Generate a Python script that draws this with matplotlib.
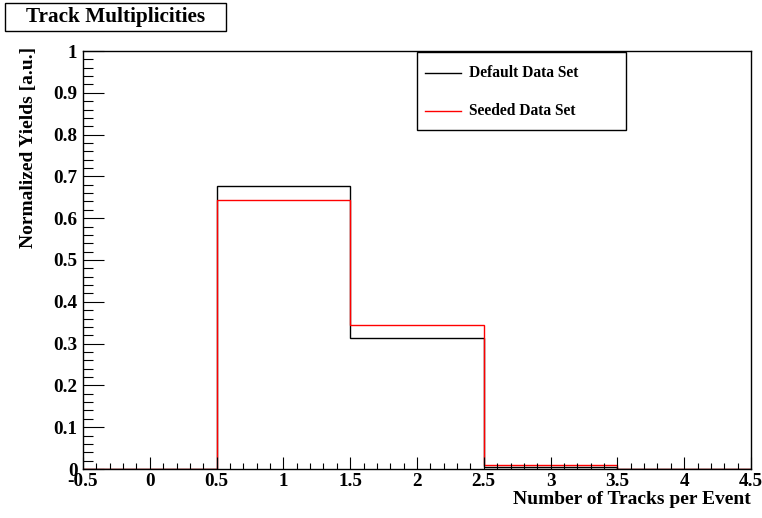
import matplotlib
matplotlib.use("Agg")
import matplotlib.pyplot as plt
from matplotlib.patches import Rectangle
from matplotlib.lines import Line2D
from matplotlib.ticker import MultipleLocator
import numpy as np

# histogram data (bin edges and normalized yields)
bin_edges = [-0.5, 0.5, 1.5, 2.5, 3.5, 4.5]
default_yields = [0.0, 0.677, 0.313, 0.005, 0.0]
seeded_yields = [0.0, 0.644, 0.344, 0.0095, 0.0]
series_labels = ["Default Data Set", "Seeded Data Set"]
x_ticks = [-0.5, 0, 0.5, 1, 1.5, 2, 2.5, 3, 3.5, 4, 4.5]
x_ticklabels = ["-0.5", "0", "0.5", "1", "1.5", "2", "2.5", "3", "3.5", "4", "4.5"]
y_ticks = [0, 0.1, 0.2, 0.3, 0.4, 0.5, 0.6, 0.7, 0.8, 0.9, 1]
y_ticklabels = ["0", "0.1", "0.2", "0.3", "0.4", "0.5", "0.6", "0.7", "0.8", "0.9", "1"]

W, H = 762, 518
def fx(px):
    return px / W
def fy(py):
    return 1 - py / H

plt.rcParams['font.family'] = ['Liberation Serif', 'DejaVu Serif']
plt.rcParams['font.weight'] = 'bold'

fig = plt.figure(figsize=(W / 100, H / 100), dpi=100)
ax = fig.add_axes([fx(83), fy(469), fx(751) - fx(83), fy(51) - fy(469)])

ax.stairs(default_yields, bin_edges, color="black", lw=1.0)
ax.stairs(seeded_yields, bin_edges, color="red", lw=1.0)

ax.set_xlim(-0.5, 4.5)
ax.set_ylim(0, 1)
ax.set_xticks(x_ticks)
ax.set_xticklabels(x_ticklabels)
ax.set_yticks(y_ticks)
ax.set_yticklabels(y_ticklabels)
ax.xaxis.set_minor_locator(MultipleLocator(0.1))
ax.yaxis.set_minor_locator(MultipleLocator(0.02))
ax.tick_params(axis="x", which="major", direction="in", length=9, width=0.8,
               labelsize=13.8, pad=3, top=False)
ax.tick_params(axis="x", which="minor", direction="in", length=4.5, width=0.8, top=False)
ax.tick_params(axis="y", which="major", direction="in", length=15, width=0.8,
               labelsize=13.8, pad=4, right=False)
ax.tick_params(axis="y", which="minor", direction="in", length=7.5, width=0.8, right=False)
for lab in ax.get_xticklabels() + ax.get_yticklabels():
    lab.set_fontweight("bold")
for sp in ax.spines.values():
    sp.set_linewidth(1.0)

# axis titles, ROOT style (aligned to the end of the axis)
fig.text(fx(751), fy(504), "Number of Tracks per Event", ha="right", va="baseline",
         fontsize=14, fontweight="bold")
fig.text(fx(29), fy(47), "Normalized Yields [a.u.]", ha="center", va="top",
         rotation=90, fontsize=14, fontweight="bold")

# title box
fig.patches.append(Rectangle((fx(5), fy(31)), fx(226) - fx(5), fy(3) - fy(31),
                             transform=fig.transFigure, fill=True, facecolor="white",
                             edgecolor="black", lw=1.0))
fig.text(fx(116), fy(17), "Track Multiplicities", ha="center", va="center",
         fontsize=15.3, fontweight="bold")

# legend box
fig.patches.append(Rectangle((fx(417), fy(130)), fx(626) - fx(417), fy(52) - fy(130),
                             transform=fig.transFigure, fill=True, facecolor="white",
                             edgecolor="black", lw=1.0, zorder=3))
for i, (lab, col) in enumerate(zip(series_labels, ["black", "red"])):
    ypix = 73 + i * 38
    fig.lines.append(Line2D([fx(425), fx(461)], [fy(ypix), fy(ypix)],
                            transform=fig.transFigure, color=col, lw=1.0, zorder=4))
    fig.text(fx(469), fy(ypix), lab, ha="left", va="center", fontsize=11.2,
             fontweight="bold", zorder=4)

fig.savefig("out.png", dpi=100)
